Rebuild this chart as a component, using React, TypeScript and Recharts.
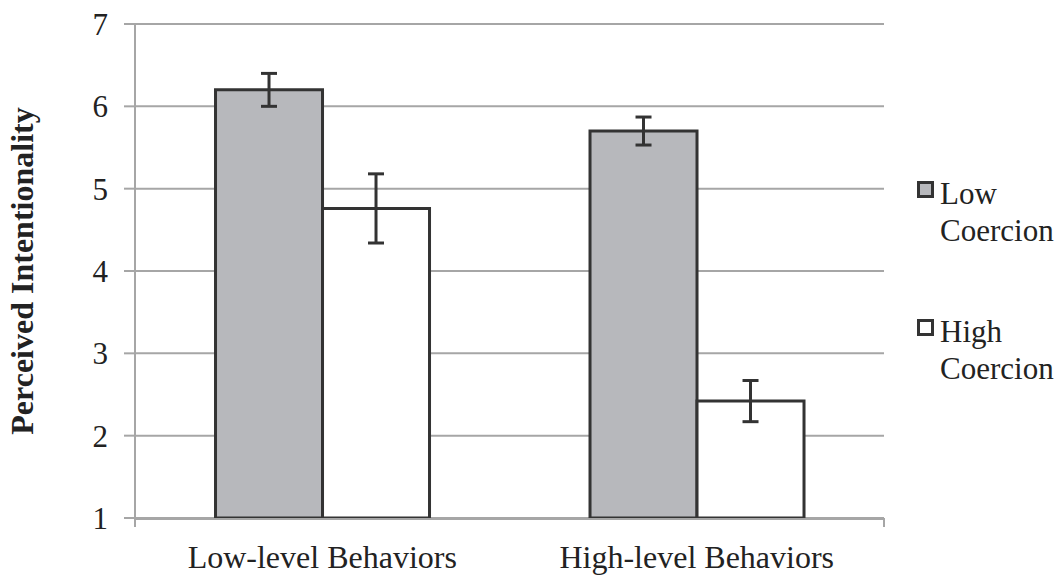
import React from 'react';
import { BarChart, Bar, XAxis, YAxis, CartesianGrid, ErrorBar, Legend } from 'recharts';

const categories = ['Low-level Behaviors', 'High-level Behaviors'];
const lowCoercion = [6.2, 5.7];
const lowCoercionErr = [0.2, 0.17];
const highCoercion = [4.76, 2.42];
const highCoercionErr = [0.42, 0.25];
const yTicks = [1, 2, 3, 4, 5, 6, 7];
const boundaryTicks = [0, 1, 2];
const seriesNames = ['Low Coercion', 'High Coercion'];
const seriesFills = ['#b7b8bc', '#ffffff'];

const data = categories.map((c, i) => ({
  name: c,
  low: lowCoercion[i],
  lowErr: lowCoercionErr[i],
  high: highCoercion[i],
  highErr: highCoercionErr[i],
}));

const FONT = '"Liberation Serif", "Times New Roman", serif';
const GRID = '#a6a6a6';
const DARK = '#333333';

const LegendContent = () => (
  <div style={{ fontFamily: FONT, fontSize: 31, lineHeight: '37px', color: '#222' }}>
    {seriesNames.map((n, i) => (
      <div key={n} style={{ display: 'flex', alignItems: 'flex-start', marginBottom: i === 0 ? 64 : 0 }}>
        <div
          style={{
            width: 11,
            height: 11,
            marginTop: 6,
            marginRight: 6,
            border: `3px solid ${DARK}`,
            background: seriesFills[i],
            flex: 'none',
          }}
        />
        <div>
          {n.split(' ').map((w) => (
            <div key={w}>{w}</div>
          ))}
        </div>
      </div>
    ))}
  </div>
);

const YLabel = (props: any) => {
  const vb = props.viewBox || {};
  const cx = vb.x + 33;
  const cy = vb.y + vb.height / 2;
  return (
    <text
      x={cx}
      y={cy}
      transform={`rotate(-90, ${cx}, ${cy})`}
      textAnchor="middle"
      fontFamily={FONT}
      fontWeight="bold"
      fontSize={32}
      fill="#222"
    >
      Perceived Intentionality
    </text>
  );
};

const EmptyTick = () => <g />;

export default function App() {
  return (
    <div style={{ position: 'absolute', left: 0, top: 0, width: 1060, height: 576, background: '#fff' }}>
      <BarChart
        width={1060}
        height={576}
        data={data}
        margin={{ top: 24, right: 33, bottom: 0, left: 0 }}
        barGap={0}
        barCategoryGap="21.5%"
      >
        <CartesianGrid vertical={false} stroke={GRID} strokeWidth={2} xAxisId="cat" />
        <XAxis
          xAxisId={0}
          type="number"
          domain={[0, 2]}
          ticks={boundaryTicks}
          height={1}
          tick={EmptyTick}
          axisLine={false}
          tickLine={{ stroke: GRID, strokeWidth: 2 }}
          tickSize={9}
          interval={0}
        />
        <XAxis
          xAxisId="cat"
          dataKey="name"
          height={57}
          axisLine={{ stroke: GRID, strokeWidth: 2 }}
          tickLine={false}
          tickSize={8}
          tickMargin={18}
          tick={{ fontFamily: FONT, fontSize: 32, fill: '#222' }}
        />
        <YAxis
          width={135}
          domain={[1, 7]}
          ticks={yTicks}
          axisLine={{ stroke: GRID, strokeWidth: 2 }}
          tickLine={{ stroke: GRID, strokeWidth: 2 }}
          tickSize={11}
          tickMargin={16}
          tick={{ fontFamily: FONT, fontSize: 31, fill: '#222' }}
          label={<YLabel />}
        />
        <Legend
          content={<LegendContent />}
          layout="vertical"
          verticalAlign="top"
          align="right"
          wrapperStyle={{ position: 'absolute', left: 917, top: 175, width: 143 }}
        />
        <Bar xAxisId="cat" dataKey="low" name={seriesNames[0]} fill={seriesFills[0]} stroke={DARK} strokeWidth={3} isAnimationActive={false}>
          <ErrorBar dataKey="lowErr" stroke={DARK} strokeWidth={3} width={8} />
        </Bar>
        <Bar xAxisId="cat" dataKey="high" name={seriesNames[1]} fill={seriesFills[1]} stroke={DARK} strokeWidth={3} isAnimationActive={false}>
          <ErrorBar dataKey="highErr" stroke={DARK} strokeWidth={3} width={8} />
        </Bar>
      </BarChart>
    </div>
  );
}
